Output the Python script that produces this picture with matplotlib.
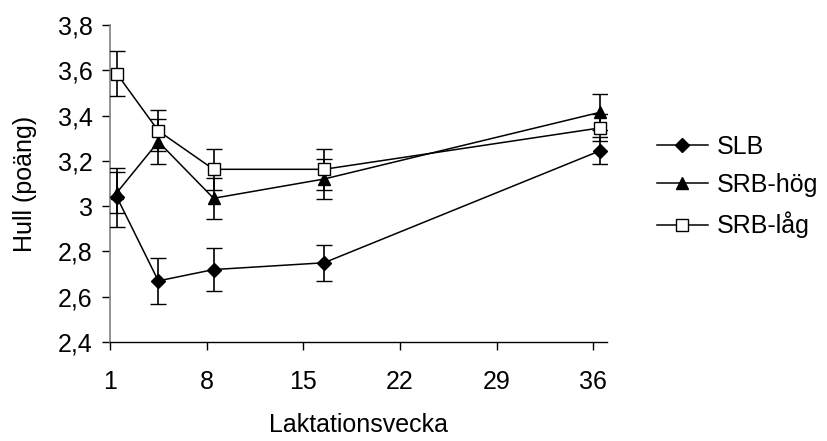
import numpy as np
import matplotlib
matplotlib.use('Agg')
import matplotlib.pyplot as plt
from matplotlib.lines import Line2D
from matplotlib.ticker import FuncFormatter

# veckor (Excel kategori-offset, punkterna ligger mitt i intervallen)
weeks = [1.5, 4.5, 8.5, 16.5, 36.5]
labels = ['SLB', 'SRB-hög', 'SRB-låg']

slb = [3.04, 2.67, 2.72, 2.75, 3.245]
slb_err = [0.13, 0.10, 0.095, 0.08, 0.06]
srb_hog = [3.06, 3.285, 3.035, 3.12, 3.415]
srb_hog_err = [0.09, 0.10, 0.09, 0.09, 0.08]
srb_lag = [3.585, 3.333, 3.163, 3.163, 3.346]
srb_lag_err = [0.10, 0.09, 0.09, 0.09, 0.06]

x_ticks = [1, 8, 15, 22, 29, 36]
y_ticks = [2.4, 2.6, 2.8, 3.0, 3.2, 3.4, 3.6, 3.8]

plt.rcParams['font.family'] = ['Liberation Sans', 'DejaVu Sans']
fs = 18

fig = plt.figure(figsize=(8.27, 4.41), dpi=100)
ax = fig.add_axes([0.133, 0.2245, 0.601, 0.7185])

series = [slb, srb_hog, srb_lag]
errs = [slb_err, srb_hog_err, srb_lag_err]
markers = ['D', '^', 's']
sizes = [7.5, 9, 9]
faces = ['black', 'black', 'white']
handles = []
for i in range(3):
    ax.errorbar(weeks, series[i], yerr=errs[i], color='black', linewidth=1.1,
                elinewidth=1.2, capsize=6, capthick=1.2, marker=markers[i],
                markersize=sizes[i], markerfacecolor=faces[i],
                markeredgecolor='black', markeredgewidth=1.0, zorder=3 + i)
    handles.append(Line2D([], [], color='black', linewidth=1.1, marker=markers[i],
                          markersize=sizes[i], markerfacecolor=faces[i],
                          markeredgecolor='black', markeredgewidth=1.0))

ax.set_xlim(1, 37)
ax.set_ylim(2.4, 3.8)
ax.set_xticks(x_ticks)
ax.set_yticks(y_ticks)
ax.yaxis.set_major_formatter(FuncFormatter(lambda v, p: ('%g' % round(v, 1)).replace('.', ',')))

for s in ['top', 'right']:
    ax.spines[s].set_visible(False)
ax.spines['left'].set_color('#808080')
ax.spines['left'].set_linewidth(1.2)
ax.spines['bottom'].set_linewidth(1.0)
ax.tick_params(axis='both', direction='out', length=5.5, width=1.0, labelsize=fs)
ax.tick_params(axis='x', pad=15)
ax.tick_params(axis='y', pad=7)

ax.set_xlabel('Laktationsvecka', fontsize=fs, labelpad=13)
ax.set_ylabel('Hull (poäng)', fontsize=fs, labelpad=15)

fig.legend(handles, labels, loc='center left', bbox_to_anchor=(0.794, 0.577),
           frameon=False, fontsize=fs, borderpad=0, borderaxespad=0,
           handlelength=2.05, handletextpad=0.36, labelspacing=0.58)

plt.savefig('out.png', dpi=100)
